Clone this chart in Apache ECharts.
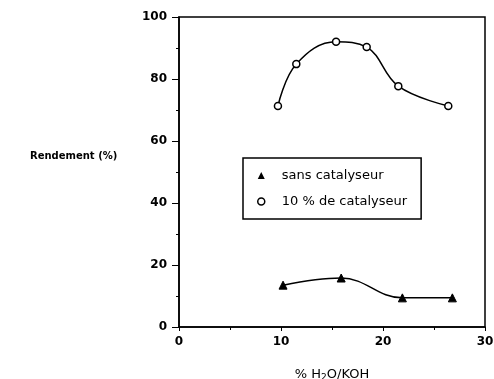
<!DOCTYPE html>
<html><head><meta charset="utf-8">
<script src="https://cdn.jsdelivr.net/npm/echarts@6/dist/echarts.min.js"></script>
<style>html,body{margin:0;padding:0;background:#fff}#c{width:494px;height:379px}</style>
</head><body><div id="c"></div>
<script>
const seriesNames = ['sans catalyseur', '10 % de catalyseur'];
const sansX = [10.2, 15.9, 21.9, 26.8];
const sansY = [13.5, 15.8, 9.4, 9.4];
const catX = [9.7, 11.5, 15.4, 18.4, 21.5, 26.4];
const catY = [71.3, 84.8, 92.0, 90.3, 77.7, 71.3];
const xTicks = [0, 10, 20, 30];
const yTicks = [0, 20, 40, 60, 80, 100];

const font = 'DejaVu Sans';
const chart = echarts.init(document.getElementById('c'));
chart.setOption({
  animation: false,
  backgroundColor: '#fff',
  grid: {left: 179, right: 9, top: 17, bottom: 52, show: true, borderColor: '#000', borderWidth: 1.5,
    outerBoundsMode: 'none', containLabel: false},
  xAxis: {
    type: 'value', min: 0, max: 30, interval: 10,
    axisLine: {lineStyle: {color: '#000', width: 1.5}},
    axisTick: {inside: false, length: 4, lineStyle: {color: '#000'}},
    minorTick: {show: true, splitNumber: 2, length: 3, lineStyle: {color: '#000'}},
    splitLine: {show: false},
    axisLabel: {color: '#000', fontFamily: font, fontSize: 12, fontWeight: 'bold', margin: 9,
      formatter: v => xTicks.includes(v) ? String(v) : ''},
    name: '{a|% H}{s|2}{a|O/KOH}', nameLocation: 'middle', nameGap: 40,
    nameTextStyle: {rich: {a: {color: '#000', fontFamily: font, fontSize: 13}, s: {color: '#000', fontFamily: font, fontSize: 9, verticalAlign: 'bottom', padding: [6,0,0,0]}}}
  },
  yAxis: {
    type: 'value', min: 0, max: 100, interval: 20,
    axisLine: {show: true, lineStyle: {color: '#000', width: 1.5}},
    axisTick: {show: true, length: 7, lineStyle: {color: '#000'}},
    minorTick: {show: true, splitNumber: 2, length: 3, lineStyle: {color: '#000'}},
    splitLine: {show: false},
    axisLabel: {color: '#000', fontFamily: font, fontSize: 12, fontWeight: 'bold', margin: 12,
      formatter: v => yTicks.includes(v) ? String(v) : ''}
  },
  legend: {
    orient: 'vertical', left: 243, top: 158, width: 178,
    padding: [11, 14, 11, 14], itemGap: 13,
    backgroundColor: '#fff', borderColor: '#000', borderWidth: 1.5, borderRadius: 0,
    itemWidth: 7, itemHeight: 7,
    textStyle: {color: '#000', fontFamily: font, fontSize: 13, padding: [0, 0, 0, 12]},
    data: [
      {name: seriesNames[0], icon: 'triangle', itemStyle: {color: '#000', borderWidth: 0}},
      {name: seriesNames[1], icon: 'circle', itemStyle: {color: '#fff', borderColor: '#000', borderWidth: 1.5}}
    ]
  },
  graphic: [
    {type: 'text', left: 30, top: 151, style: {text: 'Rendement (%)', fill: '#000', font: 'bold 10px "DejaVu Sans"'}}
  ],
  series: [
    {name: seriesNames[0], type: 'line', smooth: 0.4,
      data: sansX.map((x, i) => [x, sansY[i]]),
      symbol: 'triangle', symbolSize: 8,
      lineStyle: {color: '#000', width: 1.5},
      itemStyle: {color: '#000', borderColor: '#000'}},
    {name: seriesNames[1], type: 'line', smooth: 0.4,
      data: catX.map((x, i) => [x, catY[i]]),
      symbol: 'circle', symbolSize: 7,
      lineStyle: {color: '#000', width: 1.5},
      itemStyle: {color: '#fff', borderColor: '#000', borderWidth: 1.5}}
  ]
});
</script></body></html>
